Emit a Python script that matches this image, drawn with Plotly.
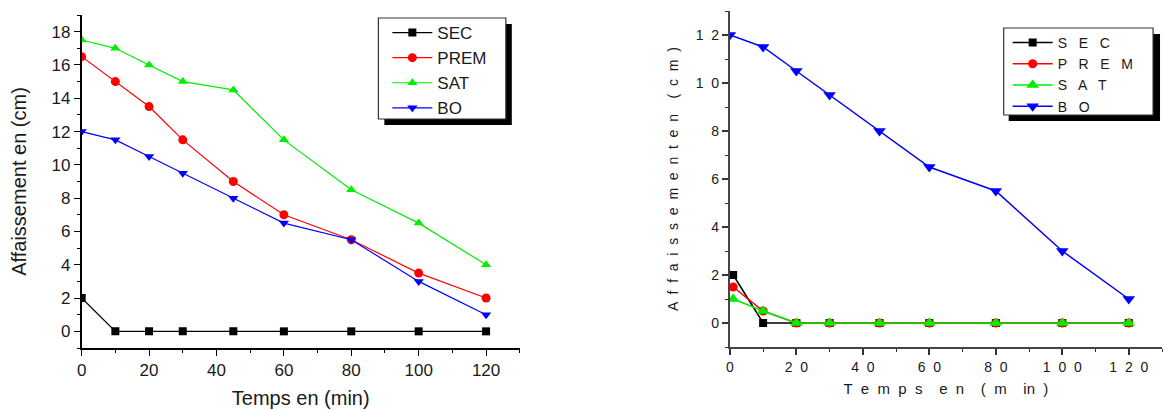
import plotly.graph_objects as go

# ---------------- data ----------------
time_left = [0, 10, 20, 30, 45, 60, 80, 100, 120]
sec_left = [2, 0, 0, 0, 0, 0, 0, 0, 0]
prem_left = [16.5, 15, 13.5, 11.5, 9, 7, 5.5, 3.5, 2]
sat_left = [17.5, 17, 16, 15, 14.5, 11.5, 8.5, 6.5, 4]
bo_left = [12, 11.5, 10.5, 9.5, 8, 6.5, 5.5, 3, 1]

time_right = [1, 10, 20, 30, 45, 60, 80, 100, 120]
time_right_bo = [0, 10, 20, 30, 45, 60, 80, 100, 120]
sec_right = [2, 0, 0, 0, 0, 0, 0, 0, 0]
prem_right = [1.5, 0.5, 0, 0, 0, 0, 0, 0, 0]
sat_right = [1.0, 0.5, 0, 0, 0, 0, 0, 0, 0]
bo_right = [12, 11.5, 10.5, 9.5, 8, 6.5, 5.5, 3, 1]

series_names_left = ["SEC", "PREM", "SAT", "BO"]
series_names_right = ["S   E   C", "P   R   E   M", "S   A   T", "B   O"]

xticks_left = [0, 20, 40, 60, 80, 100, 120]
yticks_left = [0, 2, 4, 6, 8, 10, 12, 14, 16, 18]
xticks_right = [0, 20, 40, 60, 80, 100, 120]
xticktext_right = ["0", "2  0", "4  0", "6  0", "8  0", "1  0  0", "1  2  0"]
yticks_right = [0, 2, 4, 6, 8, 10, 12]
yticktext_right = ["0", "2", "4", "6", "8", "1  0", "1  2"]

# ---------------- styles ----------------
colors = ["#000000", "#ff0000", "#00ee00", "#0000ff"]
symbols = ["square", "circle", "triangle-up", "triangle-down"]
sizes_left = [8, 9, 9, 9]
sizes_right = [8, 9, 11, 11]
FONT = "Liberation Sans, Arial, sans-serif"
TXT = "#1a1a1a"

fig = go.Figure()

left_vals = [sec_left, prem_left, sat_left, bo_left]
for name, vals, c, s, sz in zip(series_names_left, left_vals, colors, symbols, sizes_left):
    fig.add_trace(go.Scatter(
        x=time_left, y=vals, name=name, mode="lines+markers",
        line=dict(color=c, width=1.2),
        marker=dict(symbol=s, size=sz, color=c, line=dict(width=0)),
        xaxis="x", yaxis="y", legend="legend",
    ))

right_x = [time_right, time_right, time_right, time_right_bo]
right_vals = [sec_right, prem_right, sat_right, bo_right]
for name, xs, vals, c, s, sz in zip(series_names_right, right_x, right_vals, colors, symbols, sizes_right):
    fig.add_trace(go.Scatter(
        x=xs, y=vals, name=name, mode="lines+markers",
        line=dict(color=c, width=1.5),
        marker=dict(symbol=s, size=sz, color=c, line=dict(width=0)),
        xaxis="x2", yaxis="y2", legend="legend2",
    ))

W, H = 1166, 410

def px(x):
    return x / W

def py(y):
    return 1 - y / H

axis_common = dict(showgrid=False, zeroline=False, showline=True, ticks="outside",
                   mirror=False)

fig.update_layout(
    width=W, height=H,
    margin=dict(l=0, r=0, t=0, b=0),
    paper_bgcolor="white", plot_bgcolor="white",
    font=dict(family=FONT, color=TXT),
    xaxis=dict(
        domain=[px(77), px(517)], anchor="y", range=[0, 130],
        tickvals=xticks_left, ticklen=6, tickwidth=1.3, linewidth=1.5,
        linecolor="#000", tickcolor="#000",
        minor=dict(dtick=10, ticklen=3, tickwidth=1.2, tickcolor="#000", ticks="outside"),
        tickfont=dict(size=17, family=FONT, color=TXT),
        title=dict(text="Temps en (min)", font=dict(size=20, family=FONT, color=TXT), standoff=12),
        **axis_common,
    ),
    yaxis=dict(
        domain=[py(348), py(15)], anchor="x", range=[-1, 19],
        tickvals=yticks_left, ticklen=6, tickwidth=1.3, linewidth=1.5,
        linecolor="#000", tickcolor="#000",
        minor=dict(dtick=1, tick0=1, ticklen=3, tickwidth=1.2, tickcolor="#000", ticks="outside"),
        tickfont=dict(size=17, family=FONT, color=TXT),
        title=dict(text="Affaissement en (cm)", font=dict(size=20, family=FONT, color=TXT), standoff=20),
        **axis_common,
    ),
    xaxis2=dict(
        domain=[px(728), px(1162)], anchor="y2", range=[0, 130],
        tickvals=xticks_right, ticktext=xticktext_right, ticklen=6, tickwidth=1.5, linewidth=2,
        linecolor="#444", tickcolor="#333",
        minor=dict(dtick=10, ticklen=3, tickwidth=1.3, tickcolor="#333", ticks="outside"),
        tickfont=dict(size=14, family=FONT, color=TXT),
        title=dict(text="T  e  m  p  s    e  n    (  m    in  )",
                   font=dict(size=15, family=FONT, color=TXT), standoff=10),
        **axis_common,
    ),
    yaxis2=dict(
        domain=[py(347), py(11)], anchor="x2", range=[-1, 13],
        tickvals=yticks_right, ticktext=yticktext_right, ticklen=6, tickwidth=1.5, linewidth=2,
        linecolor="#444", tickcolor="#333",
        minor=dict(dtick=1, tick0=1, ticklen=3, tickwidth=1.3, tickcolor="#333", ticks="outside"),
        tickfont=dict(size=14, family=FONT, color=TXT),
        title=dict(text="A  f  f  a  i  s  s  e  m  e  n  t  e  n    (  c  m  )",
                   font=dict(size=14, family=FONT, color=TXT), standoff=14),
        **axis_common,
    ),
    legend=dict(
        x=px(384), y=py(15), xanchor="left", yanchor="top",
        bgcolor="rgba(0,0,0,0)", borderwidth=0,
        font=dict(size=17, family=FONT, color=TXT),
        itemwidth=40, tracegroupgap=0,
    ),
    legend2=dict(
        x=px(1007), y=py(27), xanchor="left", yanchor="top",
        bgcolor="rgba(0,0,0,0)", borderwidth=0,
        font=dict(size=14, family=FONT, color=TXT),
        itemwidth=40, tracegroupgap=0,
    ),
    shapes=[
        # legend 1 shadow + box
        dict(type="rect", xref="paper", yref="paper", x0=px(381), x1=px(509), y0=py(125), y1=py(24),
             fillcolor="#000", line=dict(width=0), layer="below"),
        dict(type="rect", xref="paper", yref="paper", x0=px(375), x1=px(503), y0=py(119), y1=py(18),
             fillcolor="white", line=dict(width=1.2, color="#333"), layer="below"),
        # legend 2 shadow + box
        dict(type="rect", xref="paper", yref="paper", x0=px(1008), x1=px(1160), y0=py(121), y1=py(34),
             fillcolor="#000", line=dict(width=0), layer="below"),
        dict(type="rect", xref="paper", yref="paper", x0=px(1003), x1=px(1153), y0=py(115), y1=py(28),
             fillcolor="white", line=dict(width=1.2, color="#333"), layer="below"),
    ],
)

fig.write_html("out.html")
